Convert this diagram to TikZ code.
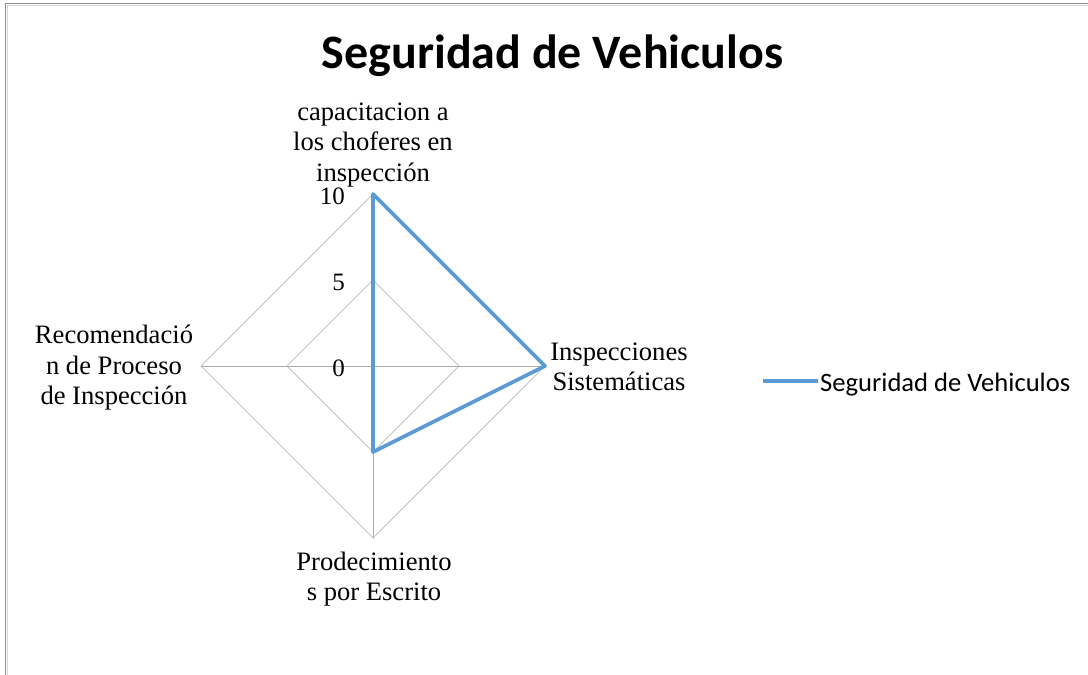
\documentclass[tikz,border=0pt]{standalone}
\usepackage{fontspec}
\setmainfont{Liberation Serif}
\newfontfamily\calib{Carlito}
\definecolor{serie}{HTML}{5B9BD5}
\definecolor{ringc}{HTML}{C6C6C6}
\definecolor{spokec}{HTML}{ABABAB}
\definecolor{framedark}{HTML}{8E8E8E}
\definecolor{framelight}{HTML}{D4D4D4}
\tikzset{
  ring/.style={draw=ringc, line width=1pt},
  spoke/.style={draw=spokec, line width=1pt},
  series/.style={draw=serie, line width=3.6pt, line join=round, line cap=round},
  catlabel/.style={align=center, inner sep=0pt, font=\fontsize{26.6}{30.5}\selectfont},
  ticklabel/.style={anchor=base east, inner sep=0pt, font=\fontsize{25}{28}\selectfont},
  titlelabel/.style={anchor=base, inner sep=0pt, font=\calib\bfseries\fontsize{48}{56}\selectfont},
  legendlabel/.style={anchor=base west, inner sep=0pt, font=\calib\fontsize{26.6}{30}\selectfont}
}
\begin{document}
\begin{tikzpicture}[x=1pt,y=-1pt]
\useasboundingbox (0,0) rectangle (1088,675);
\fill[white] (0,0) rectangle (1088,675);
% chart frame
\draw[framelight, line width=1.2pt] (7.2,675) -- (7.2,5.2) -- (1088,5.2);
\draw[framedark, line width=1.2pt] (5.8,675) -- (5.8,3.8) -- (1088,3.8);
% geometry
\coordinate (c) at (373,366);
\coordinate (t) at (373,194);
\coordinate (r) at (545,366);
\coordinate (b) at (373,538);
\coordinate (l) at (201,366);
\coordinate (t5) at (373,280);
\coordinate (r5) at (459,366);
\coordinate (b5) at (373,452);
\coordinate (l5) at (287,366);
% grid rings
\draw[ring] (t5) -- (r5) -- (b5) -- (l5) -- cycle;
\draw[ring] (t) -- (r) -- (b) -- (l) -- cycle;
% spokes
\draw[spoke] (c) -- (t);
\draw[spoke] (c) -- (r);
\draw[spoke] (c) -- (b);
\draw[spoke] (c) -- (l);
% tick labels
\node[ticklabel] (tk10) at (345,204) {10};
\node[ticklabel] (tk5) at (345,290) {5};
\node[ticklabel] (tk0) at (345,376) {0};
% series
\draw[series] (t) -- (r) -- (b5) -- (c) -- cycle;
% category labels
\node[catlabel] (ctop) at (373,145) {capacitacion a\\los choferes en\\inspección};
\node[catlabel] (cright) at (619,367) {Inspecciones\\Sistemáticas};
\node[catlabel] (cbottom) at (374,579) {Prodecimiento\\s por Escrito};
\node[catlabel] (cleft) at (114,368) {Recomendació\\n de Proceso\\de Inspección};
% title
\node[titlelabel] (title) at (552.5,68) {Seguridad de Vehiculos};
% legend
\coordinate (lg1) at (763,381);
\coordinate (lg2) at (818,381);
\draw[draw=serie, line width=3.6pt] (lg1) -- (lg2);
\node[legendlabel] (legtext) at (820,391) {Seguridad de Vehiculos};
\end{tikzpicture}
\end{document}
